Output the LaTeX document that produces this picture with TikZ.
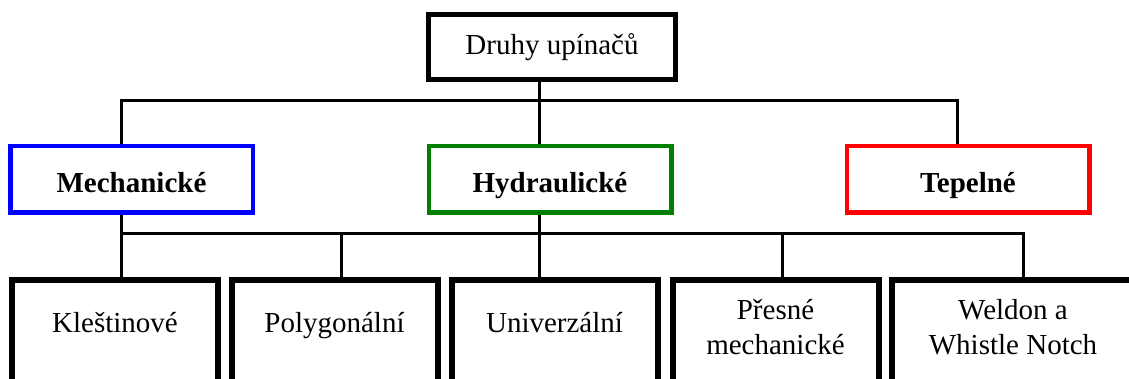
\documentclass[tikz,border=0pt]{standalone}
\usepackage{fontspec}
\setmainfont{Liberation Serif}
\definecolor{mblue}{RGB}{0,0,255}
\definecolor{hgreen}{RGB}{0,128,0}
\definecolor{tred}{RGB}{255,0,0}
\begin{document}
\begin{tikzpicture}[x=1pt,y=-1pt,
  every node/.style={font=\fontsize{29}{35}\selectfont, inner sep=0pt},
  topbox/.style={draw=black, line width=5pt, minimum width=247pt, anchor=base, text height=40.5pt, text depth=24.5pt},
  catbox/.style={draw=#1, line width=4.5pt, minimum width=242.5pt, anchor=base, text height=46.25pt, text depth=20.25pt, font=\fontsize{29}{35}\selectfont\bfseries},
  leafbox/.style={draw=black, line width=6pt, minimum width=206pt, anchor=base, text height=52pt, text depth=110pt},
  leaftwo/.style={draw=black, line width=6pt, minimum width=206pt, anchor=base, text height=39pt, text depth=123pt},
  conn/.style={draw=black, line width=3pt}]
\useasboundingbox (0,0) rectangle (1129,379);
\clip (0,0) rectangle (1129,379);
% stem x positions
\coordinate (xm) at (121.5,0);
\coordinate (xh) at (539,0);
\coordinate (xt) at (957,0);
\coordinate (x2) at (341,0);
\coordinate (x4) at (782,0);
\coordinate (x5) at (1023,0);
\coordinate (busa) at (539,101);
\coordinate (busb) at (539,234);
% nodes
\node[topbox] (top) at (552,55) {Druhy upínačů};
\node[catbox=mblue] (m) at (131.5,192.5) {Mechanické};
\node[catbox=hgreen] (h) at (550,192.5) {Hydraulické};
\node[catbox=tred] (t) at (968,192.5) {Tepelné};
\node[leafbox] (b1) at (115,332) {Kleštinové};
\node[leafbox] (b2) at (334.5,332) {Polygonální};
\node[leafbox] (b3) at (554.5,332) {Univerzální};
\node[leaftwo] (b4) at (775.5,319) {\begin{tabular}[t]{@{}c@{}}Přesné\\mechanické\end{tabular}};
\node[leaftwo, minimum width=242pt] (b5) at (1013,319) {\begin{tabular}[t]{@{}c@{}}Weldon a\\Whistle Notch\end{tabular}};
% upper connectors
\draw[conn] (top.south -| xh) -- (xh |- h.north);
\draw[conn] (xm |- m.north) |- (busa) -| (xt |- t.north);
% lower connectors
\draw[conn] (xm |- m.south) -- (xm |- b1.north);
\draw[conn] (xh |- h.south) -- (xh |- b3.north);
\draw[conn] (xm |- busb) -- (busb) -| (x5 |- b5.north);
\draw[conn] (x2 |- busb) -- (x2 |- b2.north);
\draw[conn] (x4 |- busb) -- (x4 |- b4.north);
\end{tikzpicture}
\end{document}
